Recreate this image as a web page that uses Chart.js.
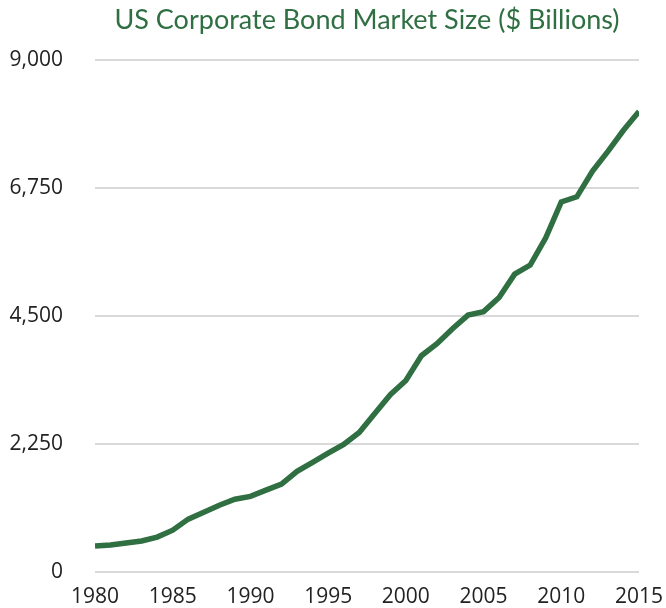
<!DOCTYPE html>
<html>
<head>
<meta charset="utf-8">
<script src="https://cdn.jsdelivr.net/npm/chart.js@4"></script>
<style>
  body { margin: 0; background: #fff; }
  #wrap { width: 666px; height: 608px; }
</style>
</head>
<body>
<div id="wrap"><canvas id="bondChart" width="666" height="608"></canvas></div>
<script>
// US corporate bond market size, $ billions
const years = [1980, 1981, 1982, 1983, 1984, 1985, 1986, 1987, 1988, 1989,
               1990, 1991, 1992, 1993, 1994, 1995, 1996, 1997, 1998, 1999,
               2000, 2001, 2002, 2003, 2004, 2005, 2006, 2007, 2008, 2009,
               2010, 2011, 2012, 2013, 2014, 2015];
const marketSize = [456, 475, 510, 545, 615, 735, 930, 1050, 1175, 1280,
                    1330, 1440, 1545, 1770, 1930, 2090, 2245, 2455, 2790, 3120,
                    3370, 3805, 4015, 4280, 4520, 4580, 4830, 5240, 5400, 5880,
                    6510, 6600, 7050, 7400, 7770, 8100];
const yTicks = [0, 2250, 4500, 6750, 9000];
const xTicks = [1980, 1985, 1990, 1995, 2000, 2005, 2010, 2015];

const green = '#2f6f42';
const tickFont = { family: "'Open Sans', 'Noto Sans', sans-serif", size: 21 };

const ctx = document.getElementById('bondChart').getContext('2d');
new Chart(ctx, {
    type: 'line',
    data: {
        datasets: [{
            data: years.map((y, i) => ({ x: y, y: marketSize[i] })),
            borderColor: green,
            borderWidth: 5.5,
            pointRadius: 0,
            tension: 0,
            fill: false
        }]
    },
    options: {
        responsive: false,
        animation: false,
        layout: { padding: { left: 8, right: 27, top: 4, bottom: 2 } },
        plugins: {
            legend: { display: false },
            tooltip: { enabled: false },
            title: {
                display: true,
                fullSize: false,
                text: 'US Corporate Bond Market Size ($ Billions)',
                color: green,
                font: { family: "Lato, 'Open Sans', sans-serif", size: 27, weight: 'normal' },
                padding: { top: 0, bottom: 24 }
            }
        },
        scales: {
            x: {
                type: 'linear',
                min: 1980,
                max: 2015,
                afterBuildTicks: axis => { axis.ticks = xTicks.map(v => ({ value: v })); },
                afterFit: axis => {
                    axis.height = 34;
                    axis.paddingLeft = 0;
                    axis.paddingRight = 0;
                },
                grid: { display: false, drawTicks: false },
                border: { display: false },
                ticks: {
                    color: '#222',
                    font: tickFont,
                    padding: 12,
                    maxRotation: 0,
                    callback: v => String(v)
                }
            },
            y: {
                min: 0,
                max: 9000,
                afterBuildTicks: axis => { axis.ticks = yTicks.map(v => ({ value: v })); },
                afterFit: axis => {
                    axis.width = 87;
                    axis.paddingTop = 0;
                    axis.paddingBottom = 0;
                },
                grid: { color: '#d9d9d9', lineWidth: 2, drawTicks: false },
                border: { display: false },
                ticks: {
                    color: '#222',
                    font: tickFont,
                    padding: 32,
                    callback: v => v.toLocaleString('en-US')
                }
            }
        }
    }
});
</script>
</body>
</html>
